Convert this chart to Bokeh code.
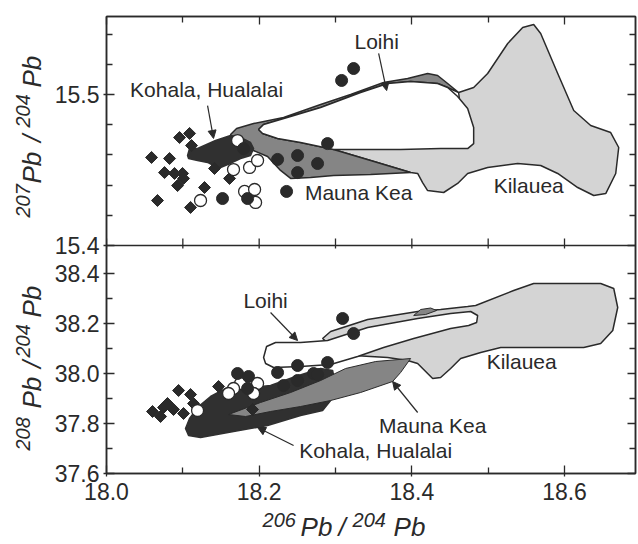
import math
from bokeh.plotting import figure
from bokeh.layouts import column, row
from bokeh.models import (Range1d, LinearAxis, FixedTicker, CustomJSTickFormatter,
                          PrintfTickFormatter, Label, Arrow, NormalHead, Span)
from bokeh.embed import file_html
from bokeh.resources import INLINE

# ---------------- data ----------------
# axis ticks
x_major = [18.0, 18.2, 18.4, 18.6]
x_minor = [18.1, 18.3, 18.5]
top_y_major = [15.4, 15.5]
top_y_minor = [15.42, 15.44, 15.46, 15.48, 15.52, 15.54]
bot_y_major = [37.6, 37.8, 38.0, 38.2, 38.4]
bot_y_minor = [37.7, 37.9, 38.1, 38.3]

# upper panel: 207Pb/204Pb vs 206Pb/204Pb
top_dia_x = [18.0957, 18.1088, 18.1114, 18.0590, 18.0826, 18.0760, 18.0891, 18.0996,
             18.1009, 18.0931, 18.0668, 18.1101, 18.1284, 18.1415, 18.1612]
top_dia_y = [15.4715, 15.4742, 15.4662, 15.4583, 15.4576, 15.4483, 15.4477, 15.4477,
             15.4444, 15.4397, 15.4298, 15.4252, 15.4384, 15.4510, 15.4444]
top_open_x = [18.1232, 18.1664, 18.1874, 18.1979, 18.1809, 18.1940, 18.1953, 18.1717]
top_open_y = [15.4298, 15.4503, 15.4517, 15.4563, 15.4358, 15.4371, 15.4285, 15.4695]
top_fill_x = [18.1520, 18.1848, 18.2359, 18.2241, 18.2503, 18.2765, 18.2503, 18.2896,
              18.3080, 18.3237, 18.1796]
top_fill_y = [15.4311, 15.4311, 15.4358, 15.4570, 15.4596, 15.4543, 15.4483, 15.4675,
              15.5093, 15.5172, 15.4642]

top_kilauea_x = [18.4613, 18.4810, 18.4993, 18.5256, 18.5452, 18.5596, 18.5688, 18.5911,
                 18.6121, 18.6343, 18.6605, 18.6710, 18.6671, 18.6540, 18.6383, 18.6173,
                 18.5911, 18.5688, 18.5387, 18.4993, 18.4731, 18.4600, 18.4417, 18.4207,
                 18.4141, 18.4076, 18.3984, 18.3460, 18.2975, 18.3853, 18.4640]
top_kilauea_y = [15.5013, 15.5046, 15.5139, 15.5338, 15.5444, 15.5464, 15.5404, 15.5139,
                 15.4894, 15.4795, 15.4748, 15.4649, 15.4477, 15.4344, 15.4331, 15.4384,
                 15.4477, 15.4530, 15.4543, 15.4517, 15.4477, 15.4411, 15.4351, 15.4364,
                 15.4417, 15.4477, 15.4483, 15.4563, 15.4636, 15.4695, 15.4894]
top_maunakea_x = [18.1625, 18.1704, 18.1927, 18.2320, 18.2805, 18.3198, 18.3630, 18.3945,
                  18.4207, 18.4338, 18.4469, 18.4613, 18.4469, 18.4338, 18.3984, 18.3683,
                  18.3329, 18.2805, 18.2412, 18.2058, 18.1992, 18.2045, 18.2241, 18.2543,
                  18.2975, 18.3460, 18.3984, 18.3460, 18.2975, 18.2674, 18.2412, 18.2280,
                  18.2110, 18.1927, 18.1756, 18.1651]
top_maunakea_y = [15.4735, 15.4775, 15.4808, 15.4848, 15.4934, 15.5000, 15.5079, 15.5106,
                  15.5139, 15.5126, 15.5073, 15.5013, 15.5046, 15.5073, 15.5086, 15.5073,
                  15.5013, 15.4914, 15.4854, 15.4801, 15.4768, 15.4742, 15.4709, 15.4682,
                  15.4636, 15.4563, 15.4483, 15.4470, 15.4464, 15.4450, 15.4444, 15.4497,
                  15.4589, 15.4629, 15.4675, 15.4709]
top_loihi_x = [18.2058, 18.2412, 18.2805, 18.3329, 18.3683, 18.3984, 18.4338, 18.4469,
               18.4600, 18.4731, 18.4810, 18.4810, 18.4731, 18.4377, 18.3853, 18.2975,
               18.2543, 18.2241, 18.2045, 18.1992]
top_loihi_y = [15.4801, 15.4854, 15.4914, 15.5013, 15.5073, 15.5086, 15.5073, 15.5046,
               15.4987, 15.4907, 15.4781, 15.4675, 15.4642, 15.4642, 15.4636, 15.4636,
               15.4682, 15.4709, 15.4742, 15.4768]
top_kohala_x = [18.1062, 18.1088, 18.1193, 18.1429, 18.1625, 18.1756, 18.1887, 18.1927,
                18.1887, 18.1756, 18.1651, 18.1494, 18.1402, 18.1324, 18.1193, 18.1075]
top_kohala_y = [15.4596, 15.4642, 15.4642, 15.4695, 15.4728, 15.4715, 15.4682, 15.4642,
                15.4596, 15.4576, 15.4550, 15.4517, 15.4530, 15.4550, 15.4563, 15.4576]

# lower panel: 208Pb/204Pb vs 206Pb/204Pb
bot_dia_x = [18.0603, 18.0708, 18.0747, 18.0799, 18.0878, 18.0944, 18.1009, 18.1101,
             18.1140, 18.1468, 18.1913]
bot_dia_y = [37.848, 37.828, 37.864, 37.880, 37.856, 37.932, 37.840, 37.916,
             37.880, 37.948, 37.856]
bot_open_x = [18.1756, 18.1664, 18.1979, 18.1927, 18.1599, 18.1193]
bot_open_y = [37.960, 37.940, 37.960, 37.920, 37.920, 37.852]
bot_fill_x = [18.2241, 18.2503, 18.2713, 18.2320, 18.2503, 18.2896, 18.2765, 18.3093,
              18.3237, 18.1717, 18.1861, 18.1848]
bot_fill_y = [38.004, 38.032, 38.000, 37.952, 37.972, 38.044, 37.996, 38.220,
              38.160, 38.000, 37.988, 37.940]

bot_kilauea_x = [18.2831, 18.2936, 18.3421, 18.4076, 18.4377, 18.4731, 18.4836, 18.5334,
                 18.5596, 18.6474, 18.6645, 18.6697, 18.6632, 18.6474, 18.6252, 18.5596,
                 18.5164, 18.4902, 18.4640, 18.4508, 18.4377, 18.4273, 18.4207, 18.4076,
                 18.3945, 18.3683, 18.3237, 18.3067, 18.2936]
bot_kilauea_y = [38.140, 38.168, 38.216, 38.248, 38.256, 38.268, 38.272, 38.332,
                 38.360, 38.360, 38.340, 38.264, 38.172, 38.120, 38.104, 38.104,
                 38.104, 38.084, 38.060, 38.020, 37.984, 37.980, 38.000, 38.040,
                 38.052, 38.064, 38.072, 38.092, 38.112]
bot_kohala_x = [18.1035, 18.1088, 18.1206, 18.1363, 18.1560, 18.1887, 18.2149, 18.2477,
                18.2805, 18.2962, 18.3001, 18.2936, 18.2831, 18.2543, 18.2110, 18.1664,
                18.1232, 18.1075]
bot_kohala_y = [37.780, 37.820, 37.868, 37.908, 37.940, 37.944, 37.952, 37.988,
                38.020, 38.012, 37.952, 37.892, 37.852, 37.832, 37.792, 37.768,
                37.744, 37.752]
bot_maunakea_x = [18.1599, 18.2018, 18.2412, 18.2805, 18.3132, 18.3526, 18.3984, 18.3853,
                  18.3748, 18.3329, 18.2936, 18.2543, 18.2149, 18.1822]
bot_maunakea_y = [37.836, 37.884, 37.924, 37.972, 38.020, 38.048, 38.060, 38.004,
                  37.968, 37.924, 37.892, 37.868, 37.848, 37.828]
bot_maunakea2_x = [18.4024, 18.4115, 18.4246, 18.4325, 18.4181]
bot_maunakea2_y = [38.232, 38.256, 38.262, 38.252, 38.236]
bot_loihi_x = [18.2058, 18.2097, 18.2215, 18.2543, 18.2896, 18.3421, 18.4076, 18.4508,
               18.4771, 18.4862, 18.4849, 18.4744, 18.4508, 18.4024, 18.3630, 18.3290,
               18.2936, 18.2543, 18.2189, 18.2084]
bot_loihi_y = [38.064, 38.108, 38.124, 38.124, 38.132, 38.184, 38.220, 38.240,
               38.248, 38.232, 38.204, 38.192, 38.180, 38.140, 38.104, 38.068,
               38.036, 38.028, 38.024, 38.040]

# ---------------- styles ----------------
INK = "#2a2a2a"
FONT = "Liberation Sans"
C_KIL = "#d4d4d4"
C_MK = "#858585"
C_KOH = "#303030"

X_RANGE = (18.0, 18.693)
TOP_RANGE = (15.249007, 15.551656)
BOT_RANGE = (37.6, 39.428)
K = (BOT_RANGE[1] - BOT_RANGE[0]) / (TOP_RANGE[1] - TOP_RANGE[0])
B0 = BOT_RANGE[0] + (top_y_major[0] - TOP_RANGE[0]) * K


def top_to_bot(t):
    return round(B0 + (t - top_y_major[0]) * K, 6)


xr = Range1d(*X_RANGE)
yr = Range1d(*BOT_RANGE)

p = figure(width=588, height=509, output_backend="svg", toolbar_location=None,
           x_range=xr, y_range=yr, x_axis_location=None, y_axis_location=None,
           min_border_left=56, min_border_right=3, min_border_top=16, min_border_bottom=36)
p.extra_y_ranges = {"top": Range1d(*TOP_RANGE)}
p.grid.visible = False
p.outline_line_color = INK
p.outline_line_width = 1.5
p.border_fill_color = "white"

y_major = bot_y_major + [top_to_bot(t) for t in top_y_major]
y_minor = bot_y_minor + [top_to_bot(t) for t in top_y_minor]

blank = CustomJSTickFormatter(code="return ''")


def style_axis(ax, labels):
    ax.axis_line_color = INK
    ax.axis_line_width = 1.5
    ax.major_tick_line_color = INK
    ax.minor_tick_line_color = INK
    ax.major_tick_line_width = 1.3
    ax.minor_tick_line_width = 1.3
    ax.major_tick_in = 8
    ax.major_tick_out = 3
    ax.minor_tick_in = 6
    ax.minor_tick_out = 0
    if labels:
        ax.major_label_text_font = FONT
        ax.major_label_text_font_size = "23px"
        ax.major_label_text_color = INK
    else:
        ax.formatter = blank
        ax.major_label_standoff = 0
        ax.major_tick_out = 0


fmt_y = CustomJSTickFormatter(args=dict(b0=B0, k=K, t0=top_y_major[0]), code="""
    if (tick > b0 - 0.001) { return (t0 + (tick - b0) / k).toFixed(1); }
    return tick.toFixed(1);
""")

left = LinearAxis(ticker=FixedTicker(ticks=y_major, minor_ticks=y_minor), formatter=fmt_y)
style_axis(left, True)
left.major_label_standoff = 4
p.add_layout(left, "left")
right = LinearAxis(ticker=FixedTicker(ticks=y_major, minor_ticks=y_minor))
style_axis(right, False)
p.add_layout(right, "right")
below = LinearAxis(ticker=FixedTicker(ticks=x_major, minor_ticks=x_minor),
                   formatter=PrintfTickFormatter(format="%.1f"))
style_axis(below, True)
below.major_label_standoff = 6
p.add_layout(below, "below")
above = LinearAxis(ticker=FixedTicker(ticks=x_major, minor_ticks=x_minor))
style_axis(above, False)
p.add_layout(above, "above")

# divider between the two panels
p.add_layout(Span(location=B0, dimension="width", line_color=INK, line_width=1.5))
mid_x = x_major + x_minor
p.segment(x0=mid_x, x1=mid_x, y0=[top_y_major[0] - 3 / 1510] * len(mid_x),
          y1=[top_y_major[0] + 7 / 1510] * len(mid_x), line_color=INK, line_width=1.3,
          y_range_name="top")

LW = 1.5
# ---- upper panel fields ----
p.patch(top_kilauea_x, top_kilauea_y, fill_color=C_KIL, line_color=INK, line_width=LW, y_range_name="top")
p.patch(top_maunakea_x, top_maunakea_y, fill_color=C_MK, line_color=INK, line_width=LW, y_range_name="top")
p.patch(top_loihi_x, top_loihi_y, fill_color="white", line_color=INK, line_width=LW, y_range_name="top")
p.patch(top_kohala_x, top_kohala_y, fill_color=C_KOH, line_color=C_KOH, line_width=LW, y_range_name="top")
# ---- lower panel fields ----
p.patch(bot_kilauea_x, bot_kilauea_y, fill_color=C_KIL, line_color=INK, line_width=LW)
p.patch(bot_kohala_x, bot_kohala_y, fill_color=C_KOH, line_color=C_KOH, line_width=LW)
p.patch(bot_maunakea_x, bot_maunakea_y, fill_color=C_MK, line_color=INK, line_width=1.0)
p.patch(bot_maunakea2_x, bot_maunakea2_y, fill_color=C_MK, line_color=INK, line_width=1.0)
p.patch(bot_loihi_x, bot_loihi_y, fill_color="white", line_color=INK, line_width=LW)

# ---- points ----
DIA = dict(marker="square", angle=math.pi / 4, size=8.5, fill_color=INK, line_color=INK)
OPEN = dict(marker="circle", size=12, fill_color="white", line_color=INK, line_width=1.3)
FILL = dict(marker="circle", size=12, fill_color=INK, line_color=INK, line_width=1)
p.scatter(top_dia_x, top_dia_y, y_range_name="top", **DIA)
p.scatter(top_open_x, top_open_y, y_range_name="top", **OPEN)
p.scatter(top_fill_x, top_fill_y, y_range_name="top", **FILL)
p.scatter(bot_dia_x, bot_dia_y, **DIA)
p.scatter(bot_open_x, bot_open_y, **OPEN)
p.scatter(bot_fill_x, bot_fill_y, **FILL)


# ---- annotations ----
def note(x, y, text, yrn="default"):
    p.add_layout(Label(x=x, y=y, text=text, y_range_name=yrn, text_font=FONT,
                       text_font_size="21px", text_color=INK,
                       text_align="center", text_baseline="middle"))


def arrow(x0, y0, x1, y1, yrn="default"):
    p.add_layout(Arrow(x_start=x0, y_start=y0, x_end=x1, y_end=y1, y_range_name=yrn,
                       line_color=INK, line_width=1.2,
                       end=NormalHead(size=8, fill_color=INK, line_color=INK, line_width=1)))


note(18.3539, 15.5351, "Loihi", "top")
arrow(18.3565, 15.5272, 18.3670, 15.5026, "top")
note(18.1311, 15.5033, "Kohala, Hualalai", "top")
arrow(18.1324, 15.4927, 18.1402, 15.4709, "top")
note(18.3303, 15.4351, "Mauna Kea", "top")
note(18.5531, 15.4397, "Kilauea", "top")

note(18.2084, 38.292, "Loihi")
arrow(18.2149, 38.244, 18.2503, 38.132)
note(18.5439, 38.048, "Kilauea")
note(18.4273, 37.792, "Mauna Kea")
arrow(18.4076, 37.844, 18.3748, 37.968)
note(18.3526, 37.692, "Kohala, Hualalai")
arrow(18.2451, 37.712, 18.1979, 37.784)

# ---- axis titles (isotope ratios with superscript mass numbers) ----
SUP, MAIN = "20px", "26px"


def strip_fig(width, height, x_range, y_range, bl, br, bt, bb):
    f = figure(width=width, height=height, output_backend="svg", toolbar_location=None,
               title=None, x_range=x_range, y_range=y_range,
               x_axis_location=None, y_axis_location=None,
               min_border_left=bl, min_border_right=br, min_border_top=bt, min_border_bottom=bb)
    f.grid.visible = False
    f.outline_line_color = None
    return f


def piece(f, x, y, text, size, angle=0.0):
    f.add_layout(Label(x=x, y=y, text=text, angle=angle, text_font=FONT,
                       text_font_size=size, text_font_style="italic", text_color=INK,
                       text_align="left", text_baseline="alphabetic"))


# left strip shares the y scale of the main plot
ytitle = strip_fig(50, 509, Range1d(17.8611, 17.9266), yr, 0, 0, 16, 36)
R = math.pi / 2
xs_sup, xs_main = 17.8912, 17.9030
for (txt, yy, sz, xx) in [("207", 38.624, SUP, xs_sup), ("Pb", 38.760, MAIN, xs_main),
                          ("/", 38.926, MAIN, xs_main), ("204", 38.984, SUP, xs_sup),
                          ("Pb", 39.144, MAIN, xs_main)]:
    piece(ytitle, xx, yy, txt, sz, R)
for (txt, yy, sz, xx) in [("208", 37.692, SUP, xs_sup), ("Pb", 37.860, MAIN, xs_main),
                          ("/", 38.022, MAIN, xs_main), ("204", 38.064, SUP, xs_sup),
                          ("Pb", 38.224, MAIN, xs_main)]:
    piece(ytitle, xx, yy, txt, sz, R)

# bottom strip shares the x scale of the main plot (y spans the strip's height)
xtitle = strip_fig(638, 35, xr, Range1d(0, 35), 106, 3, 0, 0)
for (txt, xx, yy, sz) in [("206", 18.2045, 24.5, SUP), ("Pb", 18.2543, 18, MAIN),
                          ("/", 18.3040, 18, MAIN), ("204", 18.3224, 24.5, SUP),
                          ("Pb", 18.3761, 18, MAIN)]:
    piece(xtitle, xx, yy, txt, sz)

layout = column(row(ytitle, p), xtitle)
open("out.html", "w").write(file_html(layout, INLINE))
